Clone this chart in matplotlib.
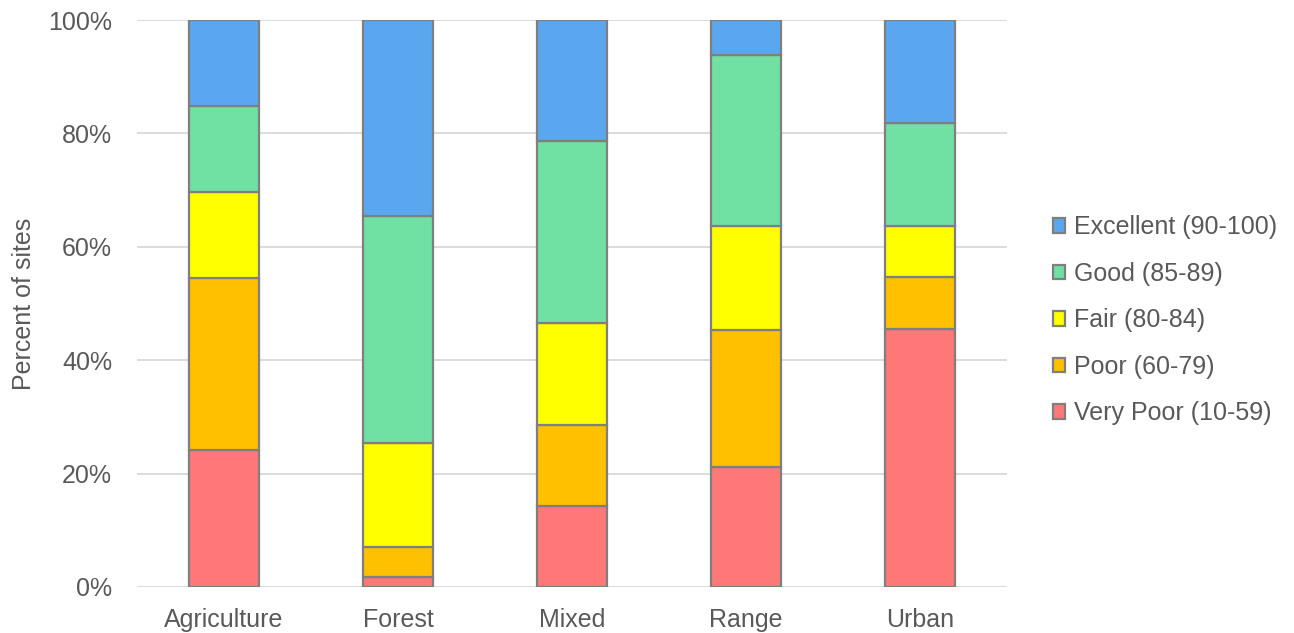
import numpy as np
import matplotlib.pyplot as plt
from matplotlib.ticker import PercentFormatter

plt.rcParams["font.family"] = ["Liberation Sans", "DejaVu Sans"]

categories = ["Agriculture", "Forest", "Mixed", "Range", "Urban"]

# percent of sites in each condition class, bottom to top
very_poor = [24.2, 1.8, 14.3, 21.2, 45.5]
poor = [30.3, 5.3, 14.3, 24.2, 9.1]
fair = [15.2, 18.3, 17.9, 18.2, 9.1]
good = [15.2, 40.0, 32.1, 30.3, 18.2]
excellent = [15.1, 34.6, 21.4, 6.1, 18.1]

series = [
    ("Very Poor (10-59)", very_poor, "#ff7878"),
    ("Poor (60-79)", poor, "#ffc000"),
    ("Fair (80-84)", fair, "#ffff00"),
    ("Good (85-89)", good, "#70e0a3"),
    ("Excellent (90-100)", excellent, "#5aa7f0"),
]

text_color = "#595959"
edge_color = "#7f7f7f"
fs = 18

fig = plt.figure(figsize=(12.94, 6.33), dpi=100)
ax = fig.add_axes([0.1059, 0.0727, 0.6723, 0.8957])

x = np.arange(len(categories))
bottom = np.zeros(len(categories))
for label, vals, color in series:
    vals = np.array(vals)
    ax.bar(x, vals, width=0.4, bottom=bottom, color=color,
           edgecolor=edge_color, linewidth=1.6, label=label, zorder=3)
    bottom += vals

ax.set_xlim(-0.5, len(categories) - 0.5)
ax.set_ylim(0, 100)
ax.set_yticks(np.arange(0, 101, 20))
ax.yaxis.set_major_formatter(PercentFormatter(decimals=0))
ax.set_xticks(x)
ax.set_xticklabels(categories)
ax.tick_params(axis="both", length=0, labelsize=fs, colors=text_color)
ax.tick_params(axis="x", pad=15)
ax.tick_params(axis="y", pad=18)
ax.grid(axis="y", color="#d9d9d9", linewidth=1.3, zorder=0)
for s in ax.spines.values():
    s.set_visible(False)
ax.set_ylabel("Percent of sites", fontsize=fs, color=text_color, labelpad=9)

handles, labels = ax.get_legend_handles_labels()
leg = fig.legend(handles[::-1], labels[::-1], loc="center left",
                 bbox_to_anchor=(0.796, 0.494), frameon=False, fontsize=fs,
                 handlelength=0.5, handleheight=0.5, handletextpad=0.35,
                 labelspacing=0.9)
for t in leg.get_texts():
    t.set_color(text_color)

fig.savefig("out.png", dpi=100)
